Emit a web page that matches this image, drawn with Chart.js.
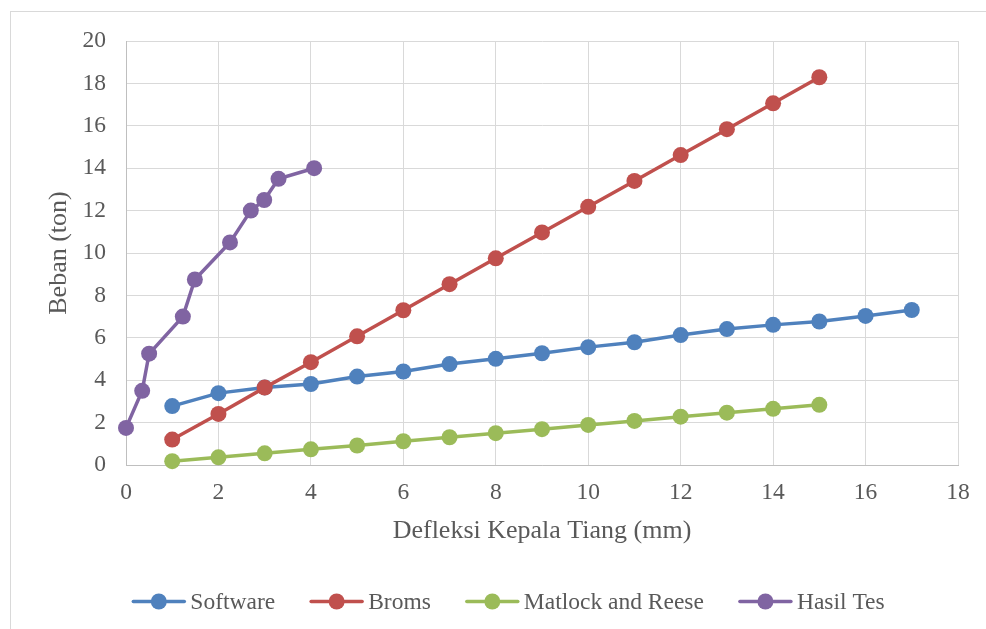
<!DOCTYPE html>
<html>
<head>
<meta charset="utf-8">
<script src="https://cdn.jsdelivr.net/npm/chart.js@4/dist/chart.umd.min.js"></script>
<style>
  html, body { margin: 0; padding: 0; background: #fff; overflow: hidden; }
  canvas { display: block; }
</style>
</head>
<body>
<canvas id="chart" width="986" height="629"></canvas>
<script>
// Load test results vs. predicted pile-head deflection
const seriesNames = ['Software', 'Broms', 'Matlock and Reese', 'Hasil Tes'];
const seriesColors = ['#4F81BD', '#C0504D', '#9BBB59', '#8064A2'];

const softwareX = [1, 2, 3, 4, 5, 6, 7, 8, 9, 10, 11, 12, 13, 14, 15, 16, 17];
const softwareY = [2.78, 3.39, 3.66, 3.82, 4.17, 4.41, 4.76, 5.01, 5.27, 5.56, 5.79, 6.13, 6.41, 6.61, 6.77, 7.03, 7.31];

const bromsX = [1, 2, 3, 4, 5, 6, 7, 8, 9, 10, 11, 12, 13, 14, 15];
const bromsY = [1.2, 2.41, 3.65, 4.85, 6.07, 7.3, 8.53, 9.75, 10.97, 12.18, 13.4, 14.62, 15.84, 17.06, 18.29];

const matlockX = [1, 2, 3, 4, 5, 6, 7, 8, 9, 10, 11, 12, 13, 14, 15];
const matlockY = [0.18, 0.36, 0.55, 0.74, 0.92, 1.12, 1.31, 1.5, 1.69, 1.89, 2.08, 2.28, 2.47, 2.65, 2.84];

const hasilX = [0, 0.35, 0.5, 1.23, 1.49, 2.25, 2.7, 2.99, 3.3, 4.07];
const hasilY = [1.75, 3.5, 5.25, 7, 8.75, 10.5, 12, 12.5, 13.5, 14];

const xTickValues = [0, 2, 4, 6, 8, 10, 12, 14, 16, 18];
const yTickValues = [0, 2, 4, 6, 8, 10, 12, 14, 16, 18, 20];

const xTitle = 'Defleksi Kepala Tiang (mm)';
const yTitle = 'Beban (ton)';

const FONT = "'Liberation Serif', 'Times New Roman', serif";
const TEXT_COLOR = '#595959';

function points(xs, ys) {
  return xs.map((x, i) => ({ x: x, y: ys[i] }));
}

const seriesData = [
  points(softwareX, softwareY),
  points(bromsX, bromsY),
  points(matlockX, matlockY),
  points(hasilX, hasilY)
];

const datasets = seriesNames.map((name, i) => ({
  label: name,
  data: seriesData[i],
  showLine: true,
  borderColor: seriesColors[i],
  backgroundColor: seriesColors[i],
  borderWidth: 3.5,
  pointRadius: 8,
  pointHoverRadius: 8,
  pointBorderWidth: 0,
  pointBackgroundColor: seriesColors[i],
  clip: false,
  // later series are painted over earlier ones
  order: seriesNames.length - i
}));

// White page with the light frame around the whole figure
const framePlugin = {
  id: 'frame',
  beforeDraw(chart) {
    const ctx = chart.ctx;
    ctx.save();
    ctx.fillStyle = '#ffffff';
    ctx.fillRect(0, 0, chart.width, chart.height);
    ctx.strokeStyle = '#d9d9d9';
    ctx.lineWidth = 1;
    ctx.strokeRect(10.5, 11.5, 2000, 2000);
    ctx.restore();
  }
};

// Legend row under the axis title: line + marker sample, then the name
const legendRowPlugin = {
  id: 'legendRow',
  afterDraw(chart) {
    const ctx = chart.ctx;
    const sampleLen = 53;
    const textGap = 5;
    const itemGap = 35;
    const y = 601.5;
    ctx.save();
    ctx.font = "23.5px " + FONT;
    ctx.textBaseline = 'middle';
    ctx.textAlign = 'left';
    const items = chart.data.datasets.map(ds => ({
      label: ds.label,
      color: ds.borderColor,
      w: sampleLen + textGap + ctx.measureText(ds.label).width
    }));
    const total = items.reduce((s, it) => s + it.w, 0) + itemGap * (items.length - 1);
    let x = 508.5 - total / 2;
    items.forEach(it => {
      ctx.strokeStyle = it.color;
      ctx.lineWidth = 3.5;
      ctx.lineCap = 'round';
      ctx.beginPath();
      ctx.moveTo(x + 1, y);
      ctx.lineTo(x + sampleLen - 1, y);
      ctx.stroke();
      ctx.fillStyle = it.color;
      ctx.beginPath();
      ctx.arc(x + sampleLen / 2, y, 8, 0, Math.PI * 2);
      ctx.fill();
      ctx.fillStyle = TEXT_COLOR;
      ctx.fillText(it.label, x + sampleLen + textGap, y + 1);
      x += it.w + itemGap;
    });
    ctx.restore();
  }
};

new Chart(document.getElementById('chart'), {
  type: 'scatter',
  data: { datasets: datasets },
  plugins: [framePlugin, legendRowPlugin],
  options: {
    responsive: false,
    animation: false,
    devicePixelRatio: 1,
    layout: { padding: { left: 0, top: 41, right: 28, bottom: 0 } },
    plugins: {
      legend: { display: false },
      tooltip: { enabled: false }
    },
    scales: {
      x: {
        type: 'linear',
        min: 0,
        max: 18,
        afterBuildTicks(scale) { scale.ticks = xTickValues.map(v => ({ value: v })); },
        afterFit(scale) { scale.height = 164; },
        grid: { color: '#d9d9d9', lineWidth: 1, drawTicks: false },
        border: { color: '#bfbfbf', width: 1 },
        ticks: {
          padding: 14,
          color: TEXT_COLOR,
          font: { family: FONT, size: 23.5 },
          maxRotation: 0
        },
        title: {
          display: true,
          text: xTitle,
          color: TEXT_COLOR,
          font: { family: FONT, size: 26 },
          padding: { top: 0, bottom: 82 }
        }
      },
      y: {
        type: 'linear',
        min: 0,
        max: 20,
        afterBuildTicks(scale) { scale.ticks = yTickValues.map(v => ({ value: v })); },
        afterFit(scale) { scale.width = 126; },
        grid: { color: '#d9d9d9', lineWidth: 1, drawTicks: false },
        border: { color: '#bfbfbf', width: 1 },
        ticks: {
          padding: 20,
          color: TEXT_COLOR,
          font: { family: FONT, size: 23.5 }
        },
        title: {
          display: true,
          text: yTitle,
          color: TEXT_COLOR,
          font: { family: FONT, size: 26 },
          padding: { top: 44, bottom: 0 }
        }
      }
    }
  }
});
</script>
</body>
</html>
